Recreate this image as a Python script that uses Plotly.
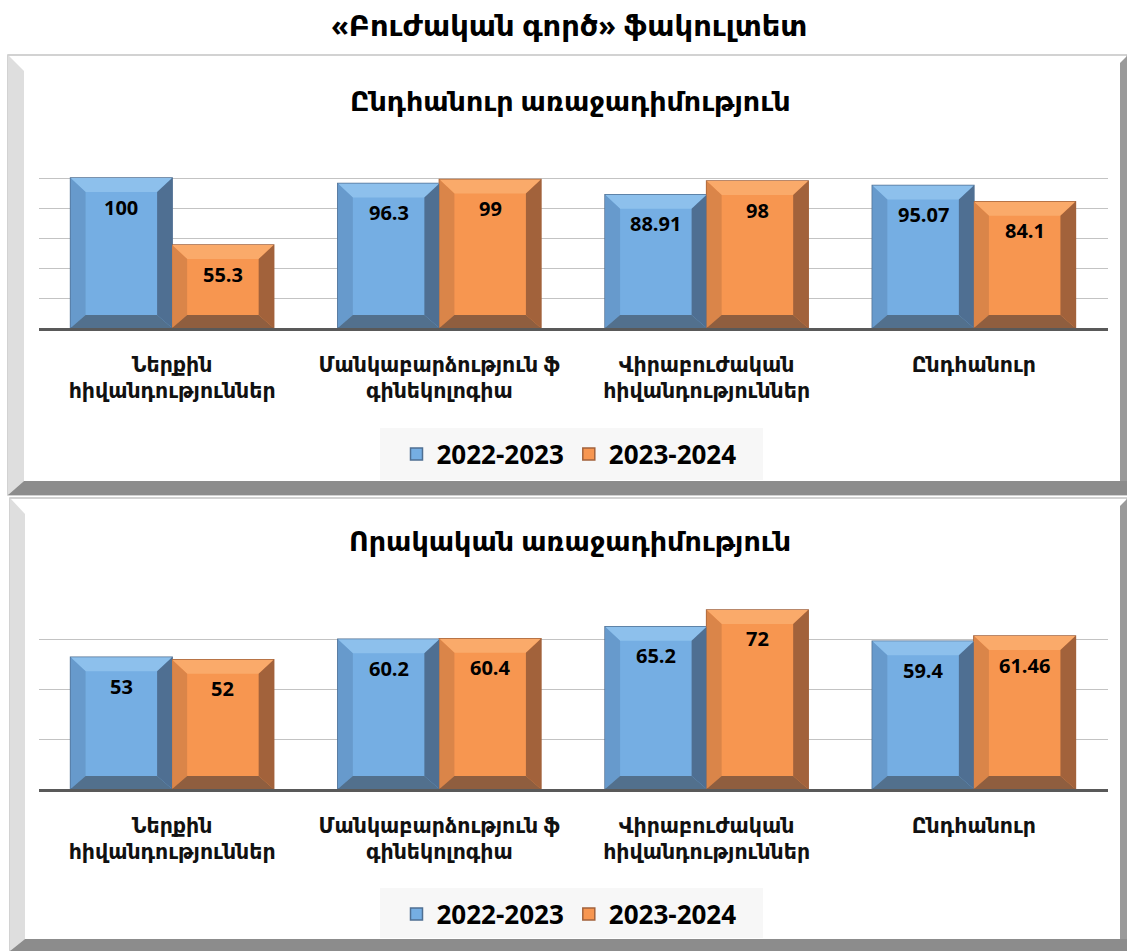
import plotly.graph_objects as go

# ---- data -------------------------------------------------------------
categories = [
    "Ներքին<br>հիվանդություններ",
    "Մանկաբարձություն ֆ<br>գինեկոլոգիա",
    "Վիրաբուժական<br>հիվանդություններ",
    "Ընդհանուր",
]
years = ["2022-2023", "2023-2024"]

overall_2022 = [100, 96.3, 88.91, 95.07]
overall_2023 = [55.3, 99, 98, 84.1]
quality_2022 = [53, 60.2, 65.2, 59.4]
quality_2023 = [52, 60.4, 72, 61.46]

main_title = "«Բուժական գործ» ֆակուլտետ"
chart_titles = ["Ընդհանուր առաջադիմություն", "Որակական առաջադիմություն"]

# ---- page geometry (pixels) -------------------------------------------
W, H = 1127, 951
FONT = "Open Sans, DejaVu Sans"


def px(x):
    return x / W


def py(y):
    return 1 - y / H


BAR_W = 0.38
BEVEL_X = 15 / 267  # category units
STYLE = {
    0: dict(face="#75AEE3", top="#8DC0EC", left="#679ACC", right="#4F6F92", bottom="#52708D"),
    1: dict(face="#F79650", top="#FAAA6A", left="#DA8549", right="#A2623B", bottom="#8F5E3F"),
}

charts = [
    dict(series=[overall_2022, overall_2023], ymax=120, top=148, base=328,
         title_y=100, legend_y=454, legend_box=(428, 480),
         panel=dict(t=55, b=495, l=8, lb=24, bb=481, r=1120)),
    dict(series=[quality_2022, quality_2023], ymax=80, top=590, base=789,
         title_y=540, legend_y=914, legend_box=(888, 938),
         panel=dict(t=498, b=951, l=10, lb=25, bb=939, r=1120)),
]

PLOT_X0, PLOT_X1 = 38.5, 1107.5

fig = go.Figure()
shapes = []
annotations = []


def poly(points, color, xref="paper", yref="paper", layer="below"):
    d = "M " + " L ".join(f"{a},{b}" for a, b in points) + " Z"
    return dict(type="path", path=d, xref=xref, yref=yref, fillcolor=color,
                line=dict(width=0), layer=layer)


for ci, ch in enumerate(charts):
    n = "" if ci == 0 else str(ci + 1)
    xa, ya = "x" + n, "y" + n
    p = ch["panel"]

    # panel frame
    shapes.append(dict(type="rect", xref="paper", yref="paper",
                       x0=px(p["l"]), x1=px(W), y0=py(p["b"]), y1=py(p["t"]),
                       fillcolor="white", line=dict(color="#c4c4c4", width=1.5),
                       layer="below"))
    shapes.append(poly([(px(p["l"]), py(p["t"])), (px(p["lb"]), py(p["t"] + 16)),
                        (px(p["lb"]), py(p["bb"])), (px(p["l"]), py(p["b"]))], "#dedede"))
    shapes.append(poly([(px(p["r"]), py(p["t"] + 8)), (px(W), py(p["t"] + 1)),
                        (px(W), py(p["b"])), (px(p["r"]), py(p["bb"]))], "#9a9a9a"))
    shapes.append(poly([(px(p["l"]), py(p["b"])), (px(p["lb"]), py(p["bb"])),
                        (px(W), py(p["bb"])), (px(W), py(p["b"]))], "#8c8c8c"))

    # legend background
    lb0, lb1 = ch["legend_box"]
    shapes.append(dict(type="rect", xref="paper", yref="paper",
                       x0=px(380), x1=px(763), y0=py(lb1), y1=py(lb0),
                       fillcolor="#f7f7f7", line=dict(width=0), layer="below"))

    ppu = (ch["base"] - ch["top"]) / ch["ymax"]  # pixels per unit
    dy_top = 14 / ppu
    dy_bot = 13 / ppu

    for si, vals in enumerate(ch["series"]):
        st = STYLE[si]
        offset = -BAR_W if si == 0 else 0
        fig.add_trace(go.Bar(
            x=list(range(len(categories))), y=vals, name=years[si],
            width=BAR_W, offset=offset, xaxis=xa, yaxis=ya,
            marker=dict(color=st["face"], line=dict(color=st["right"], width=1.5)),
            legend="legend" if ci == 0 else "legend2",
            hovertemplate="%{y}<extra>" + years[si] + "</extra>",
        ))
        for i, v in enumerate(vals):
            xl = i + offset
            xr = xl + BAR_W
            dx = BEVEL_X
            pts = dict(
                left=[(xl, 0), (xl, v), (xl + dx, v - dy_top), (xl + dx, dy_bot)],
                right=[(xr, 0), (xr, v), (xr - dx, v - dy_top), (xr - dx, dy_bot)],
                bottom=[(xl, 0), (xr, 0), (xr - dx, dy_bot), (xl + dx, dy_bot)],
                top=[(xl, v), (xr, v), (xr - dx, v - dy_top), (xl + dx, v - dy_top)],
            )
            for side in ["top", "left", "right", "bottom"]:
                shapes.append(poly(pts[side], st[side], xref=xa, yref=ya, layer="above"))
            annotations.append(dict(
                x=xl + BAR_W / 2, y=v, xref=xa, yref=ya, text=f"{v:g}",
                showarrow=False, yshift=-29, yanchor="middle",
                font=dict(family=FONT, size=20, color="black", weight="bold"),
            ))

    annotations.append(dict(
        x=px(570), y=py(ch["title_y"]), xref="paper", yref="paper",
        text=chart_titles[ci], showarrow=False, xanchor="center", yanchor="middle",
        font=dict(family=FONT, size=27, color="black", weight="bold"),
    ))

    xkey = "xaxis" + n
    ykey = "yaxis" + n
    fig.update_layout(**{
        xkey: dict(domain=[px(PLOT_X0), px(PLOT_X1)], range=[-0.5, 3.5], anchor=ya,
                   tickvals=list(range(len(categories))), ticktext=categories,
                   showgrid=False, zeroline=False, showline=True,
                   linecolor="#595959", linewidth=3, ticks="",
                   ticklabelstandoff=16,
                   tickfont=dict(family=FONT, size=20.5, color="#111111", weight="bold"),
                   fixedrange=True),
        ykey: dict(domain=[py(ch["base"]), py(ch["top"])], range=[0, ch["ymax"]],
                   anchor=xa, dtick=20, showgrid=True, gridcolor="#c3c3c3", gridwidth=1,
                   zeroline=False, showticklabels=False, ticks="", fixedrange=True),
    })

annotations.append(dict(
    x=px(569), y=py(25), xref="paper", yref="paper", text=main_title,
    showarrow=False, xanchor="center", yanchor="middle",
    font=dict(family=FONT, size=29, color="black", weight="bold"),
))

legend_style = dict(orientation="h", xanchor="center", yanchor="middle",
                    bgcolor="rgba(0,0,0,0)", itemclick=False, itemdoubleclick=False,
                    font=dict(family=FONT, size=26, color="black", weight="bold"))

fig.update_layout(
    width=W, height=H, margin=dict(l=0, r=0, t=0, b=0),
    paper_bgcolor="white", plot_bgcolor="rgba(0,0,0,0)",
    barmode="overlay", showlegend=True,
    shapes=shapes, annotations=annotations,
    legend=dict(x=px(569), y=py(charts[0]["legend_y"]), **legend_style),
    legend2=dict(x=px(569), y=py(charts[1]["legend_y"]), **legend_style),
    font=dict(family=FONT),
)

# the page body keeps a default 8px margin; drop it so pixels line up
fig.write_html("out.html", config={"displayModeBar": False},
               post_script="document.body.style.margin = '0';")
